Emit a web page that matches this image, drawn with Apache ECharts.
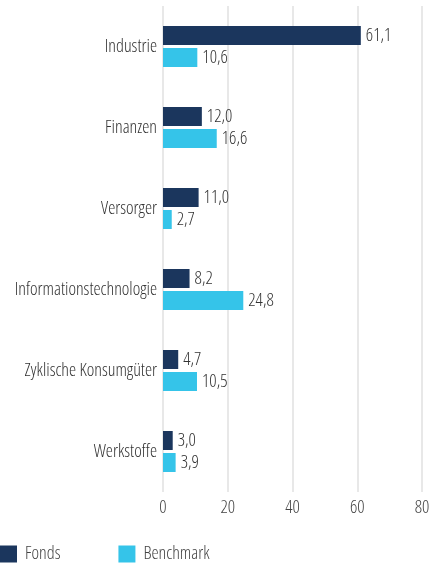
<!DOCTYPE html>
<html>
<head>
<meta charset="utf-8">
<script src="https://cdn.jsdelivr.net/npm/echarts@6/dist/echarts.min.js"></script>
<style>
html, body {margin: 0; padding: 0; background: #fff;}
#chart {width: 433px; height: 565px;}
</style>
</head>
<body>
<div id="chart"></div>
<script>
var categories = ['Industrie', 'Finanzen', 'Versorger', 'Informationstechnologie', 'Zyklische Konsumgüter', 'Werkstoffe'];
var fonds = [61.1, 12.0, 11.0, 8.2, 4.7, 3.0];
var benchmark = [10.6, 16.6, 2.7, 24.8, 10.5, 3.9];
var xTicks = [0, 20, 40, 60, 80];

// light, condensed face of Open Sans, passed through the font shorthand
var font = "'Open Sans'";
var stretch = '300 condensed';

function fmt(params) {
    return params.value.toFixed(1).replace('.', ',');
};

var chart = echarts.init(document.getElementById('chart'));
var opt = {
    animation: false,
    textStyle: {fontFamily: font},
    grid: {left: 163, right: 11, top: 6, bottom: 73, containLabel: false, outerBoundsMode: 'none'},
    legend: {
        left: 0, bottom: 2, padding: 0,
        icon: 'rect', itemWidth: 17, itemHeight: 17, itemGap: 58,
        textStyle: {fontFamily: font, fontWeight: stretch, fontSize: 18, color: '#444', padding: [0, 0, 0, 3]},
        data: ['Fonds', 'Benchmark']
    },
    xAxis: {
        type: 'value', min: 0, max: 80, interval: 20,
        axisLine: {show: false}, axisTick: {show: false},
        splitLine: {lineStyle: {color: '#e8e8e8', width: 2}},
        axisLabel: {fontFamily: font, fontWeight: stretch, fontSize: 18, color: '#444', margin: 7,
            formatter: function (v) { return xTicks.indexOf(v) >= 0 ? String(v) : ''; }}
    },
    yAxis: {
        type: 'category', data: categories, inverse: true,
        axisLine: {show: false}, axisTick: {show: false},
        axisLabel: {fontFamily: font, fontWeight: stretch, fontSize: 18, color: '#333', margin: 6}
    },
    series: [
        {name: 'Fonds', type: 'bar', data: fonds, barWidth: 19, barGap: '16%',
            itemStyle: {color: '#1b365d'},
            label: {show: true, position: 'right', distance: 5, formatter: fmt,
                fontFamily: font, fontWeight: stretch, fontSize: 18, color: '#333'}},
        {name: 'Benchmark', type: 'bar', data: benchmark, barWidth: 19,
            itemStyle: {color: '#35c4e9'},
            label: {show: true, position: 'right', distance: 5, formatter: fmt,
                fontFamily: font, fontWeight: stretch, fontSize: 18, color: '#333'}}
    ]
};
chart.setOption(opt);
</script>
</body>
</html>
